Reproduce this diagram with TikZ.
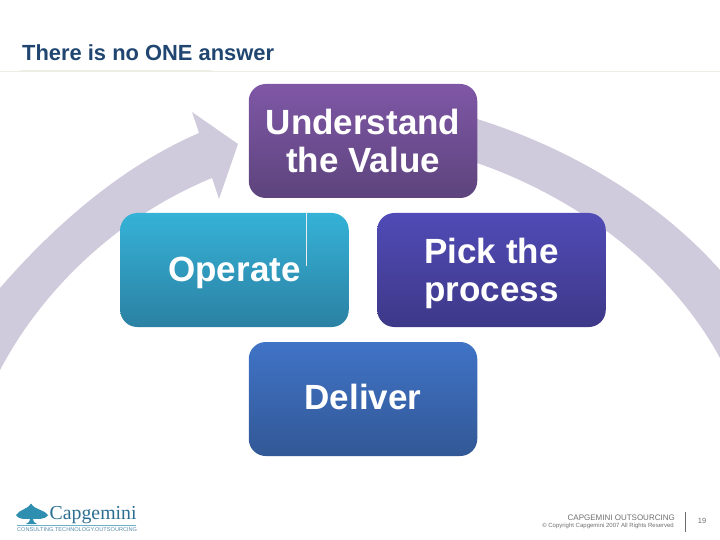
\documentclass[tikz,border=0pt]{standalone}
\usepackage{fontspec}
\setmainfont{Liberation Sans}
\newfontfamily\logofont{Liberation Serif}
\definecolor{arc}{HTML}{CFCBDC}
\definecolor{titleblue}{HTML}{1F4570}
\definecolor{rulecol}{HTML}{EEEEE4}
\definecolor{foot}{HTML}{6E6E6E}
\definecolor{logoblue}{HTML}{2F8FB0}
\definecolor{logodark}{HTML}{2C6E92}
\tikzset{
  box/.style={rounded corners=17pt,minimum width=228.5pt,minimum height=114pt,inner sep=0pt,align=center,text=white,
    font=\fontsize{35}{38}\selectfont\bfseries},
  arcband/.style={fill=arc,draw=none},
  footer/.style={inner sep=0pt,text=foot},
}
\begin{document}
\begin{tikzpicture}[x=1pt,y=-1pt]
\useasboundingbox (0,0) rectangle (720,540);
\begin{scope}
\clip (0,0) rectangle (720,540);
% left arrow
\fill[arcband] (0,288) .. controls (52,228) and (120,167) .. (199,133)
  -- (192,112) -- (238,144) -- (219,199) -- (212,178)
  .. controls (122,215) and (45,285) .. (0,370) -- cycle;
% right band
\fill[arcband] (470,117) -- (477,119) .. controls (567,147) and (657,199) .. (720,270)
  -- (720,358) .. controls (668,262) and (570,195) .. (477,163) -- (470,161) -- cycle;
\end{scope}
% boxes
\node[box,top color={rgb,255:red,127;green,87;blue,166},bottom color={rgb,255:red,93;green,68;blue,125}] (understand) at (363,141) {Understand\\the Value};
\node[box,text height=22pt,text depth=0pt,top color={rgb,255:red,53;green,178;blue,215},bottom color={rgb,255:red,43;green,129;blue,163}] (operate) at (234.5,270) {Operate};
\node[box,top color={rgb,255:red,80;green,75;blue,182},bottom color={rgb,255:red,62;green,56;blue,136}] (pick) at (491.5,270) {\rule{0pt}{31.5pt}Pick the\\process};
\node[box,text height=20pt,text depth=0pt,top color={rgb,255:red,64;green,115;blue,198},bottom color={rgb,255:red,50;green,88;blue,150}] (deliver) at (363,399) {Deliver};
\coordinate (tickA) at (306,212);
\coordinate (tickB) at (306,266);
\draw[white!85!gray,line width=0.8pt] (tickA) -- (tickB);
% title
\coordinate (ruleL) at (0,71.3);
\coordinate (ruleR) at (720,71.3);
\coordinate (ruleC) at (20,70.8);
\coordinate (ruleD) at (212,70.8);
\draw[rulecol,line width=0.8pt] (ruleL) -- (ruleR);
\draw[rulecol,line width=1.4pt] (ruleC) -- (ruleD);
\node[anchor=base west,inner sep=0pt,text=titleblue,font=\fontsize{21.9}{24}\selectfont\bfseries] (title) at (22,61) {There is no ONE answer};
% logo
\fill[logoblue] (16,515) .. controls (20,509) and (27,510) .. (31,503.5) .. controls (35,510) and (43,509) .. (48,515)
  .. controls (44,521) and (36,518) .. (33,519) .. controls (33,521) and (34,523) .. (37,524) -- (26,524)
  .. controls (29,523) and (30,521) .. (30,519) .. controls (26,518) and (20,521) .. (16,515) -- cycle;
\node[anchor=base west,inner sep=0pt,text=logodark,font=\logofont\fontsize{19.8}{24}\selectfont] (logo) at (49.5,519.5) {Capgemini};
\coordinate (lgA) at (17,525.5);
\coordinate (lgB) at (136,525.5);
\draw[logoblue!70,line width=0.6pt] (lgA) -- (lgB);
\node[anchor=base west,inner sep=0pt,text=logodark!80,font=\fontsize{5.6}{6}\selectfont] (tag) at (17,531.5) {CONSULTING.TECHNOLOGY.OUTSOURCING};
% footer
\node[footer,anchor=base east,font=\fontsize{8}{9}\selectfont] (foota) at (675,520) {CAPGEMINI OUTSOURCING};
\node[footer,anchor=base east,font=\fontsize{6}{7}\selectfont] (footb) at (674,527) {© Copyright Capgemini 2007 All Rights Reserved};
\coordinate (vA) at (685,512);
\coordinate (vB) at (685,532);
\draw[foot,line width=0.7pt] (vA) -- (vB);
\node[footer,font=\fontsize{7.5}{9}\selectfont] (page) at (702,520.5) {19};
\end{tikzpicture}
\end{document}
